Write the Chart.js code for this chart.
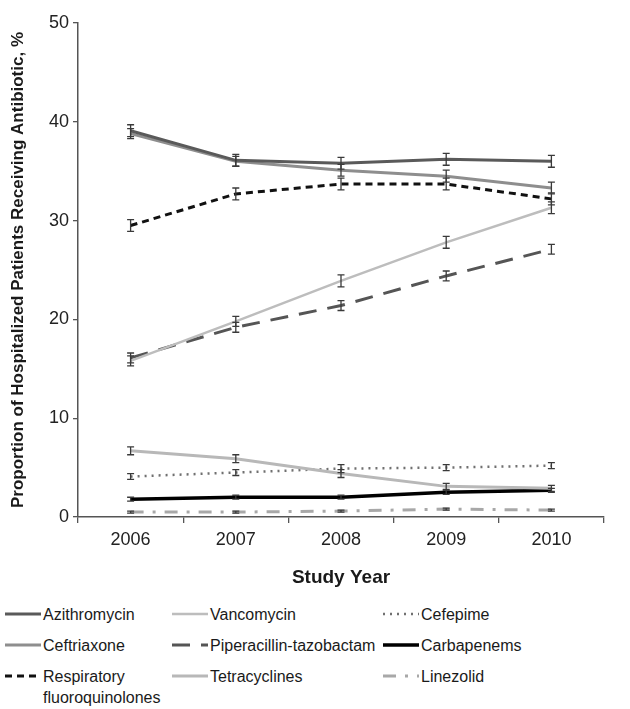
<!DOCTYPE html>
<html>
<head>
<meta charset="utf-8">
<script src="https://cdn.jsdelivr.net/npm/chart.js@4"></script>
<style>
  body { margin: 0; background: #fff; font-family: "Liberation Sans", Arial, sans-serif; }
  #wrap { position: relative; width: 630px; height: 709px; }
  #chartBox { position: absolute; left: 0; top: 0; width: 630px; height: 590px; }
  #legend { position: absolute; left: 0; top: 604px; width: 630px; }
  .item { position: absolute; display: flex; align-items: flex-start; font-size: 16px; color: #1a1a1a; line-height: 21px; }
  .item svg { flex: none; margin-top: 3px; margin-right: 2px; }
</style>
</head>
<body>
<div id="wrap">
  <div id="chartBox"><canvas id="chart" width="630" height="590"></canvas></div>
  <div id="legend"></div>
</div>
<script>
// 資料
const years = ['2006', '2007', '2008', '2009', '2010'];
const yTicks = [0, 10, 20, 30, 40, 50];

const azithromycin = [39.1, 36.1, 35.8, 36.2, 36.0];
const ceftriaxone = [38.8, 36.0, 35.1, 34.5, 33.3];
const respFq = [29.5, 32.7, 33.7, 33.7, 32.2];
const vancomycin = [15.8, 19.8, 23.9, 27.8, 31.3];
const pipTazo = [16.1, 19.2, 21.4, 24.4, 27.1];
const tetracyclines = [6.7, 5.9, 4.4, 3.1, 2.9];
const cefepime = [4.1, 4.5, 4.9, 5.0, 5.2];
const carbapenems = [1.8, 2.0, 2.0, 2.5, 2.7];
const linezolid = [0.5, 0.5, 0.6, 0.8, 0.7];

// 誤差 (±)
const azithromycinErr = [0.6, 0.6, 0.6, 0.6, 0.6];
const ceftriaxoneErr = [0.5, 0.5, 0.6, 0.6, 0.6];
const respFqErr = [0.6, 0.6, 0.6, 0.6, 0.6];
const vancomycinErr = [0.5, 0.5, 0.6, 0.6, 0.6];
const pipTazoErr = [0.5, 0.5, 0.5, 0.5, 0.5];
const tetracyclinesErr = [0.4, 0.4, 0.4, 0.3, 0.3];
const cefepimeErr = [0.3, 0.3, 0.4, 0.3, 0.3];
const carbapenemsErr = [0.2, 0.2, 0.2, 0.2, 0.2];
const linezolidErr = [0.1, 0.1, 0.1, 0.1, 0.1];

const series = [
  { label: 'Azithromycin', data: azithromycin, err: azithromycinErr, color: '#5a5a5a', width: 3, dash: [] },
  { label: 'Ceftriaxone', data: ceftriaxone, err: ceftriaxoneErr, color: '#8e8e8e', width: 3, dash: [] },
  { label: 'Respiratory fluoroquinolones', data: respFq, err: respFqErr, color: '#111111', width: 3, dash: [7, 5] },
  { label: 'Vancomycin', data: vancomycin, err: vancomycinErr, color: '#bdbdbd', width: 2.5, dash: [] },
  { label: 'Piperacillin-tazobactam', data: pipTazo, err: pipTazoErr, color: '#555555', width: 3, dash: [18, 11] },
  { label: 'Tetracyclines', data: tetracyclines, err: tetracyclinesErr, color: '#b8b8b8', width: 3, dash: [] },
  { label: 'Cefepime', data: cefepime, err: cefepimeErr, color: '#707070', width: 2.5, dash: [2, 5] },
  { label: 'Carbapenems', data: carbapenems, err: carbapenemsErr, color: '#000000', width: 3.5, dash: [] },
  { label: 'Linezolid', data: linezolid, err: linezolidErr, color: '#a8a8a8', width: 3, dash: [13, 9, 3, 9] }
];

// 誤差線插件
const errorBars = {
  id: 'errorBars',
  afterDatasetsDraw(chart) {
    const ctx = chart.ctx;
    const y = chart.scales.y;
    ctx.save();
    ctx.strokeStyle = '#3a3a3a';
    ctx.lineWidth = 1.3;
    ctx.setLineDash([]);
    chart.data.datasets.forEach((ds, di) => {
      const meta = chart.getDatasetMeta(di);
      ds.data.forEach((v, i) => {
        const x = meta.data[i].x;
        const top = y.getPixelForValue(v + ds.err[i]);
        const bot = y.getPixelForValue(v - ds.err[i]);
        ctx.beginPath();
        ctx.moveTo(x, top); ctx.lineTo(x, bot);
        ctx.moveTo(x - 3.5, top); ctx.lineTo(x + 3.5, top);
        ctx.moveTo(x - 3.5, bot); ctx.lineTo(x + 3.5, bot);
        ctx.stroke();
      });
    });
    ctx.restore();
  }
};

const font = "'Liberation Sans', Arial, sans-serif";

new Chart(document.getElementById('chart'), {
  type: 'line',
  data: {
    labels: years,
    datasets: series.map(s => ({
      label: s.label,
      data: s.data,
      err: s.err,
      borderColor: s.color,
      borderWidth: s.width,
      borderDash: s.dash,
      pointRadius: 0,
      tension: 0,
      fill: false
    }))
  },
  options: {
    responsive: false,
    animation: false,
    layout: { padding: { top: 23, right: 26, left: 0, bottom: 0 } },
    plugins: { legend: { display: false }, tooltip: { enabled: false } },
    scales: {
      x: {
        offset: true,
        grid: { offset: true, drawOnChartArea: false, tickLength: 6, color: '#555', lineWidth: 1.3 },
        border: { color: '#555', width: 1.5 },
        ticks: { font: { family: font, size: 18 }, color: '#222', padding: 6 },
        title: { display: true, text: 'Study Year', font: { family: font, size: 19, weight: 'bold' }, color: '#1a1a1a', padding: { top: 0, bottom: 1 } },
        afterFit(scale) { scale.height = 73; }
      },
      y: {
        min: 0, max: 50,
        afterBuildTicks(scale) { scale.ticks = yTicks.map(v => ({ value: v })); },
        grid: { drawOnChartArea: false, tickLength: 5, color: '#555', lineWidth: 1.3 },
        border: { color: '#555', width: 1.5 },
        ticks: { font: { family: font, size: 18 }, color: '#222', padding: 4 },
        title: { display: true, text: 'Proportion of Hospitalized Patients Receiving Antibiotic, %', font: { family: font, size: 17, weight: 'bold' }, color: '#1a1a1a', padding: { top: 8, bottom: 0 } },
        afterFit(scale) { scale.width = 78; }
      }
    }
  },
  plugins: [errorBars]
});

// 圖例 (HTML)
const legendOrder = [
  ['Azithromycin', 0, 0], ['Vancomycin', 1, 0], ['Cefepime', 2, 0],
  ['Ceftriaxone', 0, 1], ['Piperacillin-tazobactam', 1, 1], ['Carbapenems', 2, 1],
  ['Respiratory<br>fluoroquinolones', 0, 2], ['Tetracyclines', 1, 2], ['Linezolid', 2, 2]
];
const colX = [5, 172, 383];
const legendEl = document.getElementById('legend');
legendOrder.forEach(([name, col, row]) => {
  const s = series.find(d => d.label === name.replace('<br>', ' '));
  const div = document.createElement('div');
  div.className = 'item';
  div.style.left = colX[col] + 'px';
  div.style.top = (row * 31) + 'px';
  const dash = s.dash.length ? `stroke-dasharray="${s.dash.join(',')}"` : '';
  div.innerHTML = `<svg width="36" height="14"><line x1="0" y1="7" x2="36" y2="7" stroke="${s.color}" stroke-width="${s.width}" ${dash}/></svg><span>${name}</span>`;
  legendEl.appendChild(div);
});
</script>
</body>
</html>
